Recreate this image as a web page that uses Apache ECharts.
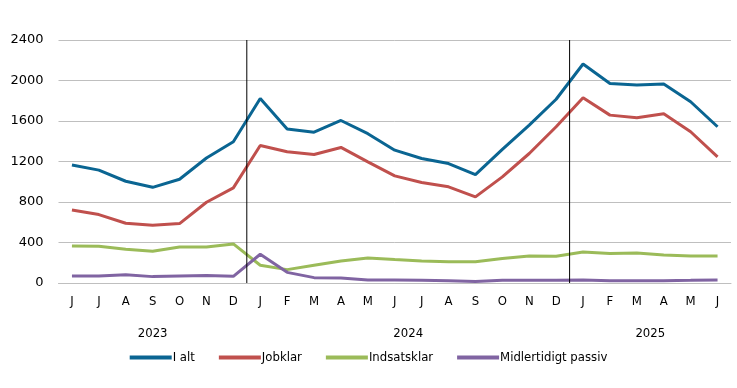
<!DOCTYPE html>
<html>
<head>
<meta charset="utf-8">
<script src="https://cdn.jsdelivr.net/npm/echarts@6/dist/echarts.min.js"></script>
<style>html,body{margin:0;padding:0;background:#fff}#c{width:737px;height:388px}</style>
</head>
<body>
<div id="c"></div>
<script>
const months = ['J','J','A','S','O','N','D','J','F','M','A','M','J','J','A','S','O','N','D','J','F','M','A','M','J'];
const years = [{label:'2023', from:0, to:6},{label:'2024', from:7, to:18},{label:'2025', from:19, to:24}];
const yTicks = [0, 400, 800, 1200, 1600, 2000, 2400];
const iAlt = [1165,1115,1005,945,1025,1235,1395,1823,1520,1490,1605,1475,1312,1230,1180,1071,1319,1560,1815,2163,1970,1955,1965,1790,1543];
const jobklar = [720,676,590,570,587,798,940,1358,1296,1269,1339,1197,1058,992,950,851,1048,1279,1543,1830,1658,1632,1672,1494,1246];
const indsatsklar = [366,363,333,313,356,356,386,175,132,175,218,247,231,218,211,211,241,267,264,307,292,297,276,267,267];
const midlertidigt = [69,69,82,63,69,73,66,284,105,53,49,30,30,28,23,16,26,26,26,30,23,23,23,26,30];

const narrow = '"DejaVu Sans Condensed", "Liberation Sans Narrow", "Arial Narrow", sans-serif';
const chart = echarts.init(document.getElementById('c'));
const mk = (name, data, color) => ({
  name, type:'line', data, symbol:'none', smooth:false,
  lineStyle:{color, width:3}, itemStyle:{color}
});
chart.setOption({
  animation:false,
  grid:{left:58.5, right:6, top:40, bottom:105},
  legend:{
    bottom:19, left:'center', icon:'rect', itemWidth:42, itemHeight:4, itemGap:24,
    textStyle:{fontFamily:narrow, fontSize:13, color:'#000', padding:[0,0,0,-4]},
    data:['I alt','Jobklar','Indsatsklar','Midlertidigt passiv']
  },
  xAxis:{
    type:'category', data:months, boundaryGap:true,
    axisLine:{show:true, lineStyle:{color:'#bfbfbf'}}, axisTick:{show:false},
    axisLabel:{interval:0, margin:12, fontFamily:narrow, fontSize:13, color:'#000'}
  },
  yAxis:{
    type:'value', min:yTicks[0], max:yTicks[yTicks.length-1], interval:yTicks[1]-yTicks[0],
    axisLine:{show:false}, axisTick:{show:false},
    splitLine:{lineStyle:{color:'#bfbfbf', width:1}},
    axisLabel:{margin:15, formatter:(v)=>String(v), fontFamily:'DejaVu Sans, Verdana, sans-serif', fontSize:13, color:'#000'}
  },
  series:[
    mk('I alt', iAlt, '#0a6592'),
    mk('Jobklar', jobklar, '#c0504d'),
    mk('Indsatsklar', indsatsklar, '#9bbb59'),
    mk('Midlertidigt passiv', midlertidigt, '#8064a2')
  ]
});

function px(i){ return chart.convertToPixel({xAxisIndex:0}, i); }
const yTop = chart.convertToPixel({yAxisIndex:0}, 2400);
const yBot = chart.convertToPixel({yAxisIndex:0}, 0);
const elems = [];
years.forEach((y, k) => {
  const cx = (px(y.from) + px(y.to)) / 2;
  elems.push({type:'text', x:cx, y:yBot+51, style:{text:y.label, align:'center', verticalAlign:'middle', font:'13px ' + narrow, fill:'#000'}});
  if (k > 0) {
    const bx = (px(y.from - 1) + px(y.from)) / 2;
    elems.push({type:'line', shape:{x1:bx, y1:yTop, x2:bx, y2:yBot}, style:{stroke:'#000', lineWidth:1}, z:10});
  }
});
chart.setOption({graphic:elems});
</script>
</body>
</html>
